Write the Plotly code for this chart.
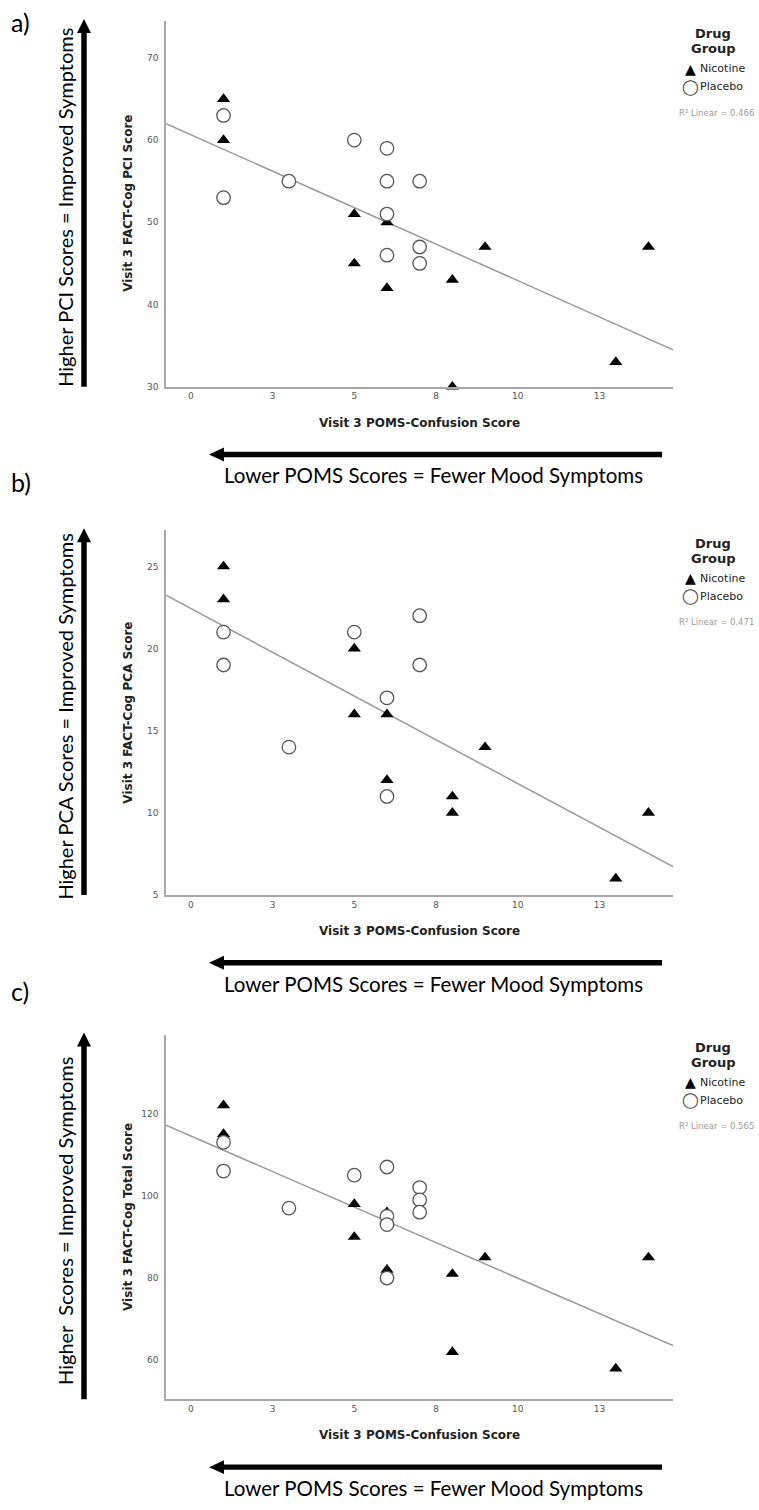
import numpy as np
import plotly.graph_objects as go

W, H = 759, 1510

# ---------------- data ----------------
x_tickvals = [0, 2.5, 5, 7.5, 10, 12.5]
x_ticktext = ["0", "3", "5", "8", "10", "13"]
x_range = [-0.76, 14.75]

a_nic_x = [1, 1, 5, 5, 6, 6, 8, 8, 9, 13, 14]
a_nic_y = [65, 60, 51, 45, 50, 42, 43, 30, 47, 33, 47]
a_pla_x = [1, 1, 3, 5, 6, 6, 6, 6, 7, 7, 7]
a_pla_y = [63, 53, 55, 60, 59, 55, 51, 46, 55, 47, 45]
a_r2 = "0.466"
a_yticks = [30, 40, 50, 60, 70]
a_yrange = [30, 74.5]

b_nic_x = [1, 1, 5, 5, 6, 6, 8, 8, 9, 13, 14]
b_nic_y = [25, 23, 20, 16, 16, 12, 11, 10, 14, 6, 10]
b_pla_x = [1, 1, 3, 5, 6, 6, 7, 7]
b_pla_y = [21, 19, 14, 21, 17, 11, 22, 19]
b_r2 = "0.471"
b_yticks = [5, 10, 15, 20, 25]
b_yrange = [5, 27.2]

c_nic_x = [1, 1, 5, 5, 6, 6, 8, 8, 9, 13, 14]
c_nic_y = [122, 115, 98, 90, 96, 82, 81, 62, 85, 58, 85]
c_pla_x = [1, 1, 3, 5, 6, 6, 6, 6, 7, 7, 7]
c_pla_y = [113, 106, 97, 105, 107, 95, 93, 80, 102, 99, 96]
c_r2 = "0.565"
c_yticks = [60, 80, 100, 120]
c_yrange = [50.5, 139.2]

x_title = "Visit 3 POMS-Confusion Score"
y_titles = ["Visit 3 FACT-Cog PCI Score", "Visit 3 FACT-Cog PCA Score", "Visit 3 FACT-Cog Total Score"]
side_texts = ["Higher PCI Scores = Improved Symptoms", "Higher PCA Scores = Improved Symptoms",
              "Higher\u00a0 Scores = Improved Symptoms"]
bottom_text = "Lower POMS Scores = Fewer Mood Symptoms"
panel_letters = ["a)", "b)", "c)"]
groups = ["Nicotine", "Placebo"]

# ---------------- layout geometry (pixels) ----------------
PL, PR = 166, 673
panels = [dict(top=21, bottom=388, letter_y=22),
          dict(top=532, bottom=898, letter_y=484),
          dict(top=1038, bottom=1404, letter_y=994)]

def px(x):
    return x / W

def py(y):
    return 1 - y / H

BIG_FONT = "Lato"
SPSS_FONT = "DejaVu Sans"

fig = go.Figure()
datasets = [
    (a_nic_x, a_nic_y, a_pla_x, a_pla_y, a_r2, a_yticks, a_yrange),
    (b_nic_x, b_nic_y, b_pla_x, b_pla_y, b_r2, b_yticks, b_yrange),
    (c_nic_x, c_nic_y, c_pla_x, c_pla_y, c_r2, c_yticks, c_yrange),
]

shapes = []
annotations = []

def note(text, x, y, size, family=SPSS_FONT, color="#222222", weight="normal", xanchor="center", angle=0):
    annotations.append(dict(text=text, xref="paper", yref="paper", x=px(x), y=py(y), showarrow=False,
                            xanchor=xanchor, yanchor="middle", textangle=angle,
                            font=dict(family=family, size=size, color=color, weight=weight)))

def v_arrow(x, y_tip, y_end, shaft=5.5, hw=14, hh=14):
    shapes.append(dict(type="rect", xref="paper", yref="paper",
                       x0=px(x - shaft / 2), x1=px(x + shaft / 2),
                       y0=py(y_tip + hh - 1), y1=py(y_end),
                       fillcolor="black", line=dict(width=0)))
    path = "M {},{} L {},{} L {},{} Z".format(px(x - hw / 2), py(y_tip + hh), px(x + hw / 2), py(y_tip + hh),
                                              px(x), py(y_tip))
    shapes.append(dict(type="path", xref="paper", yref="paper", path=path,
                       fillcolor="black", line=dict(width=0)))

def h_arrow(y, x_tip, x_end, shaft=5.5, hw=14, hh=15):
    shapes.append(dict(type="rect", xref="paper", yref="paper",
                       x0=px(x_tip + hh - 1), x1=px(x_end),
                       y0=py(y - shaft / 2), y1=py(y + shaft / 2),
                       fillcolor="black", line=dict(width=0)))
    path = "M {},{} L {},{} L {},{} Z".format(px(x_tip + hh), py(y - hw / 2), px(x_tip + hh), py(y + hw / 2),
                                              px(x_tip), py(y))
    shapes.append(dict(type="path", xref="paper", yref="paper", path=path,
                       fillcolor="black", line=dict(width=0)))

for i, (nx, ny, plx, ply, r2, yticks, yrange) in enumerate(datasets):
    n = "" if i == 0 else str(i + 1)
    g = panels[i]
    T, B = g["top"], g["bottom"]
    xa, ya = "x" + n, "y" + n

    # regression line (least squares over all points)
    allx = np.array(nx + plx, dtype=float)
    ally = np.array(ny + ply, dtype=float)
    slope, icpt = np.polyfit(allx, ally, 1)
    lx = np.array(x_range)
    fig.add_trace(go.Scatter(x=lx, y=icpt + slope * lx, mode="lines", xaxis=xa, yaxis=ya,
                             line=dict(color="#9a9a9a", width=1.5), showlegend=False, hoverinfo="skip"))
    fig.add_trace(go.Scatter(x=nx, y=ny, mode="markers", xaxis=xa, yaxis=ya, name=groups[0],
                             marker=dict(symbol="triangle-up", size=11.5, color="black", line=dict(width=0)),
                             showlegend=False, cliponaxis=False))
    fig.add_trace(go.Scatter(x=plx, y=ply, mode="markers", xaxis=xa, yaxis=ya, name=groups[1],
                             marker=dict(symbol="circle", size=13.5, color="white",
                                         line=dict(width=1.3, color="#555555")),
                             showlegend=False, cliponaxis=False))

    axis_common = dict(showline=True, linecolor="#a8a8a8", linewidth=1.6, showgrid=False, zeroline=False,
                       ticks="", tickfont=dict(family=SPSS_FONT, size=9, color="#555555"))
    fig.update_layout(**{
        "xaxis" + n: dict(domain=[px(PL), px(PR)], range=x_range, tickvals=x_tickvals, ticktext=x_ticktext,
                          anchor=ya, **axis_common),
        "yaxis" + n: dict(domain=[py(B), py(T)], range=yrange, tickvals=yticks, anchor=xa,
                          ticklabelstandoff=4, **axis_common),
    })

    # axis titles
    note(x_title, (PL + PR) / 2, B + 36, 12, weight="bold")
    note(y_titles[i], 128, (T + B) / 2, 12, weight="bold", angle=-90)

    # legend block
    note("Drug", 713, T + 13, 13, weight="bold")
    note("Group", 713, T + 28, 13, weight="bold")
    note("\u25B2", 690, T + 48, 14, family="DejaVu Sans", color="black")
    note("\u25EF", 690, T + 66, 15, family="DejaVu Sans", color="#444444")
    note(groups[0], 698, T + 48, 11, xanchor="left")
    note(groups[1], 698, T + 66, 11, xanchor="left")
    note("R\u00b2 Linear = " + r2, 716, T + 92, 8.5, color="#9a9a9a")

    # side vertical arrow + text
    v_arrow(84, T - 2, B)
    note(side_texts[i], 65, (T + B) / 2 + 4, 20, family=BIG_FONT, color="black", angle=-90)
    # bottom horizontal arrow + text
    h_arrow(B + 68, 209, 662)
    note(bottom_text, 433, B + 89, 20.5, family=BIG_FONT, color="black")
    # panel letter
    note(panel_letters[i], 9, g["letter_y"], 25, family=BIG_FONT, color="black", xanchor="left")

fig.update_layout(width=W, height=H, margin=dict(l=0, r=0, t=0, b=0),
                  paper_bgcolor="white", plot_bgcolor="white",
                  shapes=shapes, annotations=annotations, showlegend=False)

fig.write_html("out.html")
